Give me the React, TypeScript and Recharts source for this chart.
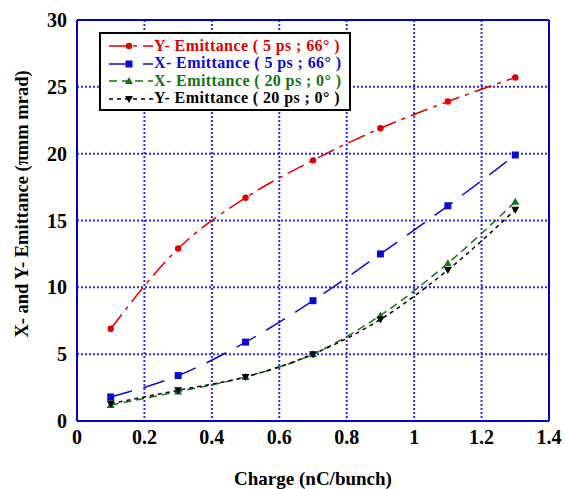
import React from 'react'
import { LineChart, Line, XAxis, YAxis, CartesianGrid, Legend, ReferenceLine, Label } from 'recharts'

const charge = [0.1, 0.3, 0.5, 0.7, 0.9, 1.1, 1.3]
const yEmit5ps = [6.9, 12.9, 16.7, 19.5, 21.9, 23.9, 25.7]
const xEmit5ps = [1.8, 3.4, 5.9, 9.0, 12.5, 16.1, 19.9]
const xEmit20ps = [1.2, 2.2, 3.3, 5.0, 7.9, 11.8, 16.4]
const yEmit20ps = [1.3, 2.3, 3.3, 5.0, 7.6, 11.3, 15.8]

const xTicks = [0, 0.2, 0.4, 0.6, 0.8, 1, 1.2, 1.4]
const yTicks = [0, 5, 10, 15, 20, 25, 30]

const data = charge.map((c, i) => ({
  charge: c,
  y5: yEmit5ps[i],
  x5: xEmit5ps[i],
  x20: xEmit20ps[i],
  y20: yEmit20ps[i],
}))

const FONT = "'Liberation Serif', serif"
const AXIS = '#0000cc'
const GRID = '#2a2ae8'

type Shape = 'circle' | 'square' | 'up' | 'down'

const series: { key: string; name: string; color: string; dash: string; shape: Shape }[] = [
  { key: 'y5', name: 'Y- Emittance ( 5 ps ; 66\u00b0 )', color: '#e00000', dash: '18 6 4 6', shape: 'circle' },
  { key: 'x5', name: 'X- Emittance ( 5 ps ; 66\u00b0 )', color: '#0b0bd6', dash: '22 12', shape: 'square' },
  { key: 'x20', name: 'X- Emittance ( 20 ps ; 0\u00b0 )', color: '#137313', dash: '8 5', shape: 'up' },
  { key: 'y20', name: 'Y- Emittance ( 20 ps ; 0\u00b0 )', color: '#000000', dash: '4 4', shape: 'down' },
]

function marker(shape: Shape, cx: number, cy: number, color: string, k?: string) {
  if (shape === 'circle') return <circle key={k} cx={cx} cy={cy} r={3.2} fill={color} />
  if (shape === 'square') return <rect key={k} x={cx - 3.5} y={cy - 3.5} width={7} height={7} fill={color} />
  if (shape === 'up')
    return <path key={k} d={`M${cx},${cy - 4} L${cx + 4},${cy + 3} L${cx - 4},${cy + 3} Z`} fill={color} />
  return <path key={k} d={`M${cx},${cy + 4} L${cx + 4},${cy - 3} L${cx - 4},${cy - 3} Z`} fill={color} />
}

function makeDot(shape: Shape, color: string) {
  return (props: any) => {
    const { cx, cy, index } = props
    if (cx == null || cy == null) return <g key={`e${index}`} />
    return marker(shape, cx, cy, color, `d${index}`)
  }
}

function LegendBox() {
  return (
    <div
      style={{
        border: '2px solid #000',
        background: '#fff',
        width: 252,
        padding: '3px 0 2px 0',
        boxSizing: 'border-box',
      }}
    >
      {series.map((s) => (
        <div key={s.key} style={{ display: 'flex', alignItems: 'center', height: 17.5 }}>
          <svg width={52} height={17} style={{ marginLeft: 6, flex: 'none' }}>
            <line x1={2} y1={9} x2={46} y2={9} stroke={s.color} strokeWidth={1.5} strokeDasharray={s.dash} />
            {marker(s.shape, 22, 9, s.color)}
          </svg>
          <span
            style={{
              fontFamily: FONT,
              fontWeight: 'bold',
              fontSize: 16,
              lineHeight: '16px',
              letterSpacing: 0.4,
              color: s.color,
              whiteSpace: 'nowrap',
              marginLeft: -5,
            }}
          >
            {s.name}
          </span>
        </div>
      ))}
    </div>
  )
}

const tickStyle = { fontFamily: FONT, fontWeight: 'bold' as const, fontSize: 20, fill: '#000' }

export default function App() {
  return (
    <div style={{ position: 'absolute', left: 0, top: 0, width: 565, height: 489, background: '#fff' }}>
      <LineChart width={565} height={489} data={data} margin={{ top: 20, right: 16, left: 0, bottom: 0 }}>
        <CartesianGrid
          stroke={GRID}
          strokeWidth={2}
          strokeDasharray="2 2"
          horizontalValues={[5, 10, 15, 20, 25]}
          verticalValues={[0.2, 0.4, 0.6, 0.8, 1, 1.2]}
        />
        <XAxis
          dataKey="charge"
          type="number"
          domain={[0, 1.4]}
          ticks={xTicks}
          tickFormatter={(v: number) => String(Math.round(v * 10) / 10)}
          tick={tickStyle}
          tickLine={false}
          tickMargin={3}
          axisLine={{ stroke: AXIS, strokeWidth: 2 }}
          height={68}
          interval={0}
        >
          <Label
            content={(p: any) => {
              const vb = p.viewBox
              return (
                <text
                  x={vb.x + vb.width / 2}
                  y={485}
                  textAnchor="middle"
                  fontFamily={FONT}
                  fontWeight="bold"
                  fontSize={19}
                  fill="#000"
                >
                  Charge (nC/bunch)
                </text>
              )
            }}
          />
        </XAxis>
        <YAxis
          type="number"
          domain={[0, 30]}
          ticks={yTicks}
          tick={tickStyle}
          tickLine={false}
          tickMargin={4}
          axisLine={{ stroke: AXIS, strokeWidth: 2 }}
          width={77}
          interval={0}
        >
          <Label
            content={() => (
              <text
                x={22}
                y={204}
                transform="rotate(-90, 22, 204)"
                textAnchor="middle"
                dominantBaseline="central"
                fontFamily={FONT}
                fontWeight="bold"
                fontSize={18.5}
                fill="#000"
              >
                X- and Y- Emittance (πmm mrad)
              </text>
            )}
          />
        </YAxis>
        <ReferenceLine y={30} stroke={AXIS} strokeWidth={2} />
        <ReferenceLine x={1.4} stroke={AXIS} strokeWidth={2} />
        {series.map((s) => (
          <Line
            key={s.key}
            dataKey={s.key}
            name={s.name}
            type="monotone"
            stroke={s.color}
            strokeWidth={1.5}
            strokeDasharray={s.dash}
            dot={makeDot(s.shape, s.color)}
            activeDot={false}
            isAnimationActive={false}
          />
        ))}
        <Legend
          layout="vertical"
          align="center"
          verticalAlign="middle"
          content={() => <LegendBox />}
          wrapperStyle={{ position: 'absolute', left: 99, top: 32, width: 'auto', height: 'auto' }}
        />
      </LineChart>
    </div>
  )
}
